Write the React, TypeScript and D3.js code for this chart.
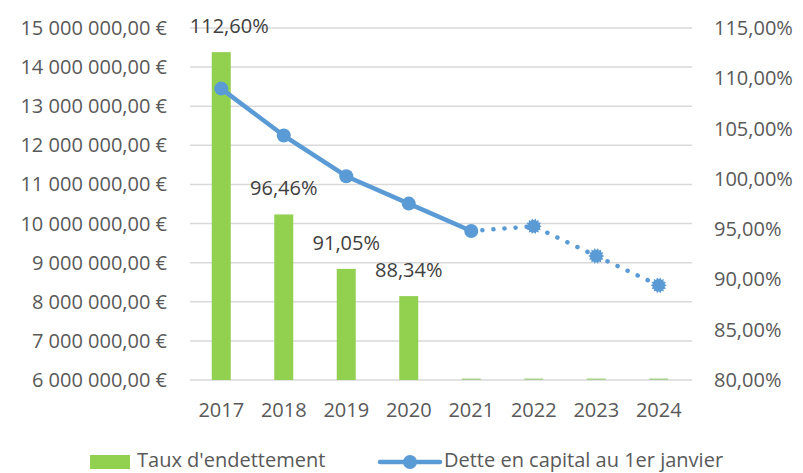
import React from 'react'
import * as d3 from 'd3'

const width = 803
const height = 473
const margin = {top: 28, right: 113, bottom: 93, left: 190}

const years = ['2017', '2018', '2019', '2020', '2021', '2022', '2023', '2024']
// taux d'endettement (%), right axis - no value after 2020
const taux = [112.6, 96.46, 91.05, 88.34, 0, 0, 0, 0]
// dette en capital au 1er janvier (€), left axis
const dette = [13450000, 12250000, 11210000, 10510000, 9810000, 9930000, 9170000, 8420000]
const realCount = 5 // 2017-2021 solid, after that projected (dotted)

const leftTicks = d3.range(6000000, 15000001, 1000000)
const rightTicks = d3.range(80, 115.01, 5)

const green = '#92d050'
const blue = '#5b9bd5'
const font = 'Open Sans, sans-serif'
const fs = 20

const fmtEuro = (v: number) => {
  const s = d3.format(',.2f')(v)
  return s.replace(/,/g, ' ').replace('.', ',') + ' €'
}
const fmtPct = (v: number) => v.toFixed(2).replace('.', ',') + '%'

export default function App() {
  const x = d3.scaleBand().domain(years).range([margin.left, width - margin.right])
  const yL = d3.scaleLinear().domain([6000000, 15000000]).range([height - margin.bottom, margin.top])
  const yR = d3.scaleLinear().domain([80, 115]).range([height - margin.bottom, margin.top]).clamp(true)
  const barW = 19
  const cx = (i: number) => (x(years[i]) as number) + x.bandwidth() / 2

  const pts = dette.map((d, i) => [cx(i), yL(d)] as [number, number])
  const line = d3.line()
  const solid = line(pts.slice(0, realCount))
  const dotted = line(pts.slice(realCount - 1))

  const starPath = (px: number, py: number) => {
    // jagged marker for projected points
    const n = 14
    const p = d3.range(n * 2).map(k => {
      const a = (k / (n * 2)) * Math.PI * 2
      const r = k % 2 ? 6 : 8
      return [px + r * Math.cos(a), py + r * Math.sin(a)] as [number, number]
    })
    return d3.line().curve(d3.curveLinearClosed)(p)
  }

  return (
    <svg width={width} height={height} style={{position: 'absolute', left: 0, top: 0, background: '#fff'}} fontFamily={font}>
      {leftTicks.map(t => (
        <line key={t} x1={margin.left} x2={width - margin.right + 2} y1={yL(t)} y2={yL(t)} stroke="#d9d9d9" strokeWidth={1.5} />
      ))}
      {leftTicks.map(t => (
        <text key={'l' + t} x={167} y={yL(t)} dy="0.35em" textAnchor="end" fontSize={fs} fill="#595959">{fmtEuro(t)}</text>
      ))}
      {rightTicks.map(t => (
        <text key={'r' + t} x={714} y={yR(t)} dy="0.35em" textAnchor="start" fontSize={fs} fill="#595959">{fmtPct(t)}</text>
      ))}
      {years.map((yr, i) => (
        <text key={yr} x={cx(i)} y={410} dy="0.35em" textAnchor="middle" fontSize={fs} fill="#595959">{yr}</text>
      ))}

      {taux.map((v, i) => {
        const top = yR(v)
        const h = Math.max(yR(80) - top, 1.5)
        return <rect key={'b' + i} x={cx(i) - barW / 2} y={yR(80) - h} width={barW} height={h} fill={v > 80 ? green : '#a9d18e'} />
      })}
      {taux.map((v, i) => v > 80 && (
        <text key={'bl' + i} x={cx(i) + (i === 0 ? 8 : 0)} y={yR(v) - 26} dy="0.35em" textAnchor="middle" fontSize={fs} fill="#404040">{fmtPct(v)}</text>
      ))}

      <path d={solid || ''} fill="none" stroke={blue} strokeWidth={4.5} strokeLinejoin="round" />
      <path d={dotted || ''} fill="none" stroke={blue} strokeWidth={4.5} strokeLinecap="round" strokeDasharray="0.1 11" />
      {pts.slice(0, realCount).map((p, i) => (
        <circle key={'c' + i} cx={p[0]} cy={p[1]} r={7} fill={blue} />
      ))}
      {pts.slice(realCount).map((p, i) => (
        <path key={'s' + i} d={starPath(p[0], p[1]) || ''} fill={blue} />
      ))}

      <rect x={90} y={455} width={40} height={14} fill={green} />
      <text x={137} y={467} fontSize={fs} fill="#595959">Taux d'endettement</text>
      <line x1={380} x2={440} y1={462} y2={462} stroke={blue} strokeWidth={4.5} strokeLinecap="round" />
      <circle cx={410} cy={462} r={7} fill={blue} />
      <text x={444} y={467} fontSize={fs} fill="#595959">Dette en capital au 1er janvier</text>
    </svg>
  )
}
